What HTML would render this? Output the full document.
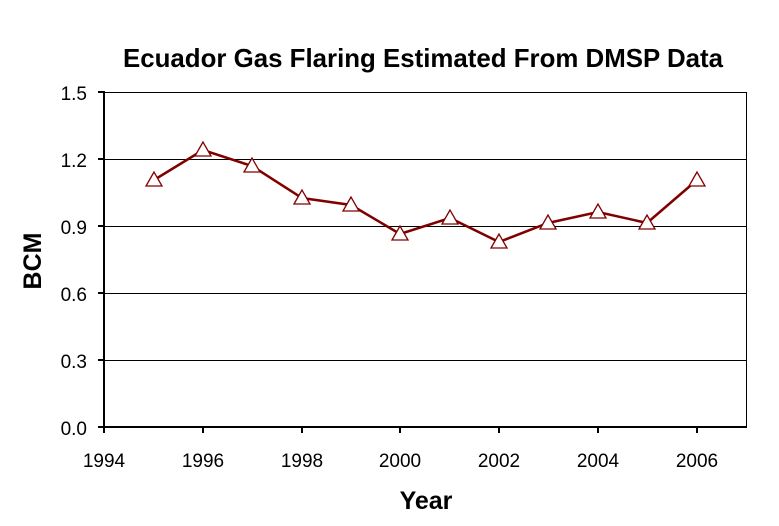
<!DOCTYPE html>
<html><head><style>body{margin:0;background:#fff}svg{display:block}text{font-family:"Liberation Sans",Arial,sans-serif}</style></head>
<body>
<svg width="779" height="526" xmlns="http://www.w3.org/2000/svg">
<rect width="779" height="526" fill="#fff"/>
<text x="423" y="67" font-size="26" font-weight="bold" text-anchor="middle" textLength="600" lengthAdjust="spacingAndGlyphs">Ecuador Gas Flaring Estimated From DMSP Data</text>
<g stroke="#000" stroke-width="1">
<line x1="104" y1="92.5" x2="747" y2="92.5"/>
<line x1="104" y1="159.5" x2="747" y2="159.5"/>
<line x1="104" y1="226.5" x2="747" y2="226.5"/>
<line x1="104" y1="293.5" x2="747" y2="293.5"/>
<line x1="104" y1="360.5" x2="747" y2="360.5"/>
<line x1="746.5" y1="92" x2="746.5" y2="427"/>
</g>
<g stroke="#000" stroke-width="2">
<line x1="104" y1="91" x2="104" y2="428"/>
<line x1="98" y1="427" x2="747" y2="427"/>
<line x1="98" y1="92" x2="104" y2="92"/><line x1="98" y1="159" x2="104" y2="159"/><line x1="98" y1="226" x2="104" y2="226"/><line x1="98" y1="293" x2="104" y2="293"/><line x1="98" y1="360" x2="104" y2="360"/>
<line x1="104" y1="427" x2="104" y2="433"/><line x1="203" y1="427" x2="203" y2="433"/><line x1="302" y1="427" x2="302" y2="433"/><line x1="400" y1="427" x2="400" y2="433"/><line x1="499" y1="427" x2="499" y2="433"/><line x1="598" y1="427" x2="598" y2="433"/><line x1="697" y1="427" x2="697" y2="433"/>
</g>
<g font-size="19" text-anchor="end">
<text x="87" y="100">1.5</text><text x="87" y="167">1.2</text><text x="87" y="234">0.9</text><text x="87" y="301">0.6</text><text x="87" y="368">0.3</text><text x="87" y="435">0.0</text>
</g>
<g font-size="19" text-anchor="middle">
<text x="104" y="467">1994</text><text x="203" y="467">1996</text><text x="302" y="467">1998</text><text x="400" y="467">2000</text><text x="499" y="467">2002</text><text x="598" y="467">2004</text><text x="697" y="467">2006</text>
</g>
<text x="426" y="509" font-size="25" font-weight="bold" text-anchor="middle">Year</text>
<text transform="translate(41,261) rotate(-90)" font-size="25" font-weight="bold" text-anchor="middle">BCM</text>
<polyline fill="none" stroke="#800000" stroke-width="2.5" points="154,180 203,150 252,166 302,198 351,205 400,234 450,218 499,242 548,223 598,212 647,223 697,180"/>
<g fill="#fff" stroke="#800000" stroke-width="1.3">
<path d="M154,172 l-8,14 h16z"/><path d="M203,142 l-8,14 h16z"/><path d="M252,158 l-8,14 h16z"/><path d="M302,190 l-8,14 h16z"/><path d="M351,197 l-8,14 h16z"/><path d="M400,226 l-8,14 h16z"/><path d="M450,210 l-8,14 h16z"/><path d="M499,234 l-8,14 h16z"/><path d="M548,215 l-8,14 h16z"/><path d="M598,204 l-8,14 h16z"/><path d="M647,215 l-8,14 h16z"/><path d="M697,172 l-8,14 h16z"/>
</g>
</svg>
</body></html>
